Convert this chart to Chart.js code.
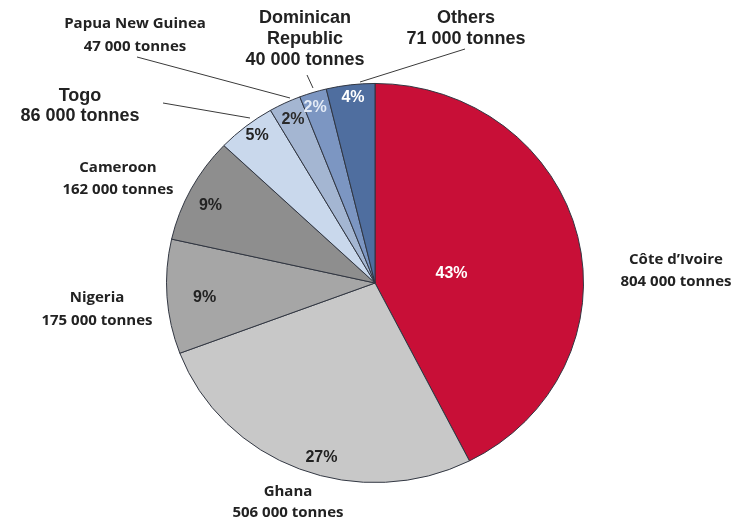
<!DOCTYPE html>
<html>
<head>
<meta charset="utf-8">
<script src="https://cdn.jsdelivr.net/npm/chart.js@4"></script>
<style>
  html, body { margin: 0; padding: 0; background: #fff; }
  #wrap { width: 740px; height: 521px; }
</style>
</head>
<body>
<div id="wrap"><canvas id="pie" width="740" height="521"></canvas></div>
<script>
/* ─── Data ────────────────────────────────────────────── */
const countries = ['Côte d\u2019Ivoire', 'Ghana', 'Nigeria', 'Cameroon', 'Togo', 'Papua New Guinea', 'Dominican Republic', 'Others'];
const tonnes    = [804000, 506000, 175000, 162000, 86000, 47000, 40000, 71000];

const total    = tonnes.reduce((a, b) => a + b, 0);
const percents = tonnes.map(v => Math.round(v / total * 100));
const fmtTonnes = v => String(v).replace(/\B(?=(\d{3})+(?!\d))/g, ' ') + ' tonnes';

/* ─── Styles ──────────────────────────────────────────── */
const SLICE_COLORS = ['#C80F37', '#C8C8C8', '#A6A6A6', '#8E8E8E', '#C9D8EC', '#A4B6D2', '#7C96C2', '#4F6E9F'];
const PCT_COLORS   = ['#ffffff', '#222222', '#222222', '#222222', '#222222', '#2a2a2a', '#e4ebf6', '#ffffff'];
const SQUASH_Y = 0.957;   // pie is drawn slightly flattened

// where each percentage sits inside its slice: t = fraction along the arc, r = fraction of radius
const PCT_POS = [
  { t: 0.54, r: 0.37 }, { t: 0.45, r: 0.91 }, { t: 0.47, r: 0.82 }, { t: 0.44, r: 0.88 },
  { t: 0.55, r: 0.93 }, { t: 0.50, r: 0.91 }, { t: 0.40, r: 0.925 }, { t: 0.52, r: 0.936 }
];

const SMALL = 'bold 15px "Open Sans", sans-serif';
const BIG   = 'bold 18px "Liberation Sans", Arial, sans-serif';

// outside name / tonnage labels
const OUTSIDE = [
  { i: 0, x: 676, y: 260, lh: 22, font: SMALL, lines: [countries[0]] },
  { i: 1, x: 288, y: 492, lh: 21, font: SMALL, lines: [countries[1]] },
  { i: 2, x: 97,  y: 298, lh: 23, font: SMALL, lines: [countries[2]] },
  { i: 3, x: 118, y: 168, lh: 22, font: SMALL, lines: [countries[3]] },
  { i: 4, x: 80,  y: 96,  lh: 20, font: BIG,   lines: [countries[4]] },
  { i: 5, x: 135, y: 24,  lh: 23, font: SMALL, lines: [countries[5]] },
  { i: 6, x: 305, y: 18,  lh: 21, font: BIG,   lines: ['Dominican', 'Republic'] },
  { i: 7, x: 466, y: 18,  lh: 21, font: BIG,   lines: [countries[7]] }
];

// leader lines from the small slices out to their labels
const LEADERS = [
  [137, 57, 290, 98],
  [163, 103, 250, 118],
  [307, 75, 313, 88],
  [465, 49, 360, 82]
];

/* ─── Plugin: flatten + labels ────────────────────────── */
const pieLabels = {
  id: 'pieLabels',
  beforeDatasetsDraw(chart) {
    const arc = chart.getDatasetMeta(0).data[0];
    const ctx = chart.ctx;
    ctx.save();
    ctx.translate(arc.x, arc.y);
    ctx.scale(1, SQUASH_Y);
    ctx.translate(-arc.x, -arc.y);
  },
  afterDatasetsDraw(chart) {
    const ctx = chart.ctx;
    ctx.restore();
    const arcs = chart.getDatasetMeta(0).data;

    // percentages
    ctx.save();
    ctx.font = 'bold 16px "Liberation Sans", Arial, sans-serif';
    ctx.textAlign = 'center';
    ctx.textBaseline = 'middle';
    arcs.forEach((a, i) => {
      const p = PCT_POS[i];
      const ang = a.startAngle + p.t * (a.endAngle - a.startAngle);
      const r = p.r * a.outerRadius;
      ctx.fillStyle = PCT_COLORS[i];
      ctx.fillText(percents[i] + '%', a.x + Math.cos(ang) * r, a.y + Math.sin(ang) * r * SQUASH_Y);
    });

    // leader lines
    ctx.strokeStyle = '#3a3a3a';
    ctx.lineWidth = 1;
    LEADERS.forEach(([x1, y1, x2, y2]) => {
      ctx.beginPath();
      ctx.moveTo(x1, y1);
      ctx.lineTo(x2, y2);
      ctx.stroke();
    });

    // names and tonnages
    ctx.fillStyle = '#222';
    OUTSIDE.forEach(l => {
      ctx.font = l.font;
      const lines = l.lines.concat(fmtTonnes(tonnes[l.i]));
      lines.forEach((s, k) => ctx.fillText(s, l.x, l.y + k * l.lh));
    });
    ctx.restore();
  }
};

/* ─── Chart ───────────────────────────────────────────── */
new Chart(document.getElementById('pie'), {
  type: 'pie',
  data: {
    labels: countries,
    datasets: [{
      data: tonnes,
      backgroundColor: SLICE_COLORS,
      borderColor: '#2f3440',
      borderWidth: 1
    }]
  },
  options: {
    responsive: false,
    animation: false,
    layout: { padding: { left: 166, right: 156, top: 74, bottom: 29 } },
    plugins: { legend: { display: false }, tooltip: { enabled: false } }
  },
  plugins: [pieLabels]
});
</script>
</body>
</html>
